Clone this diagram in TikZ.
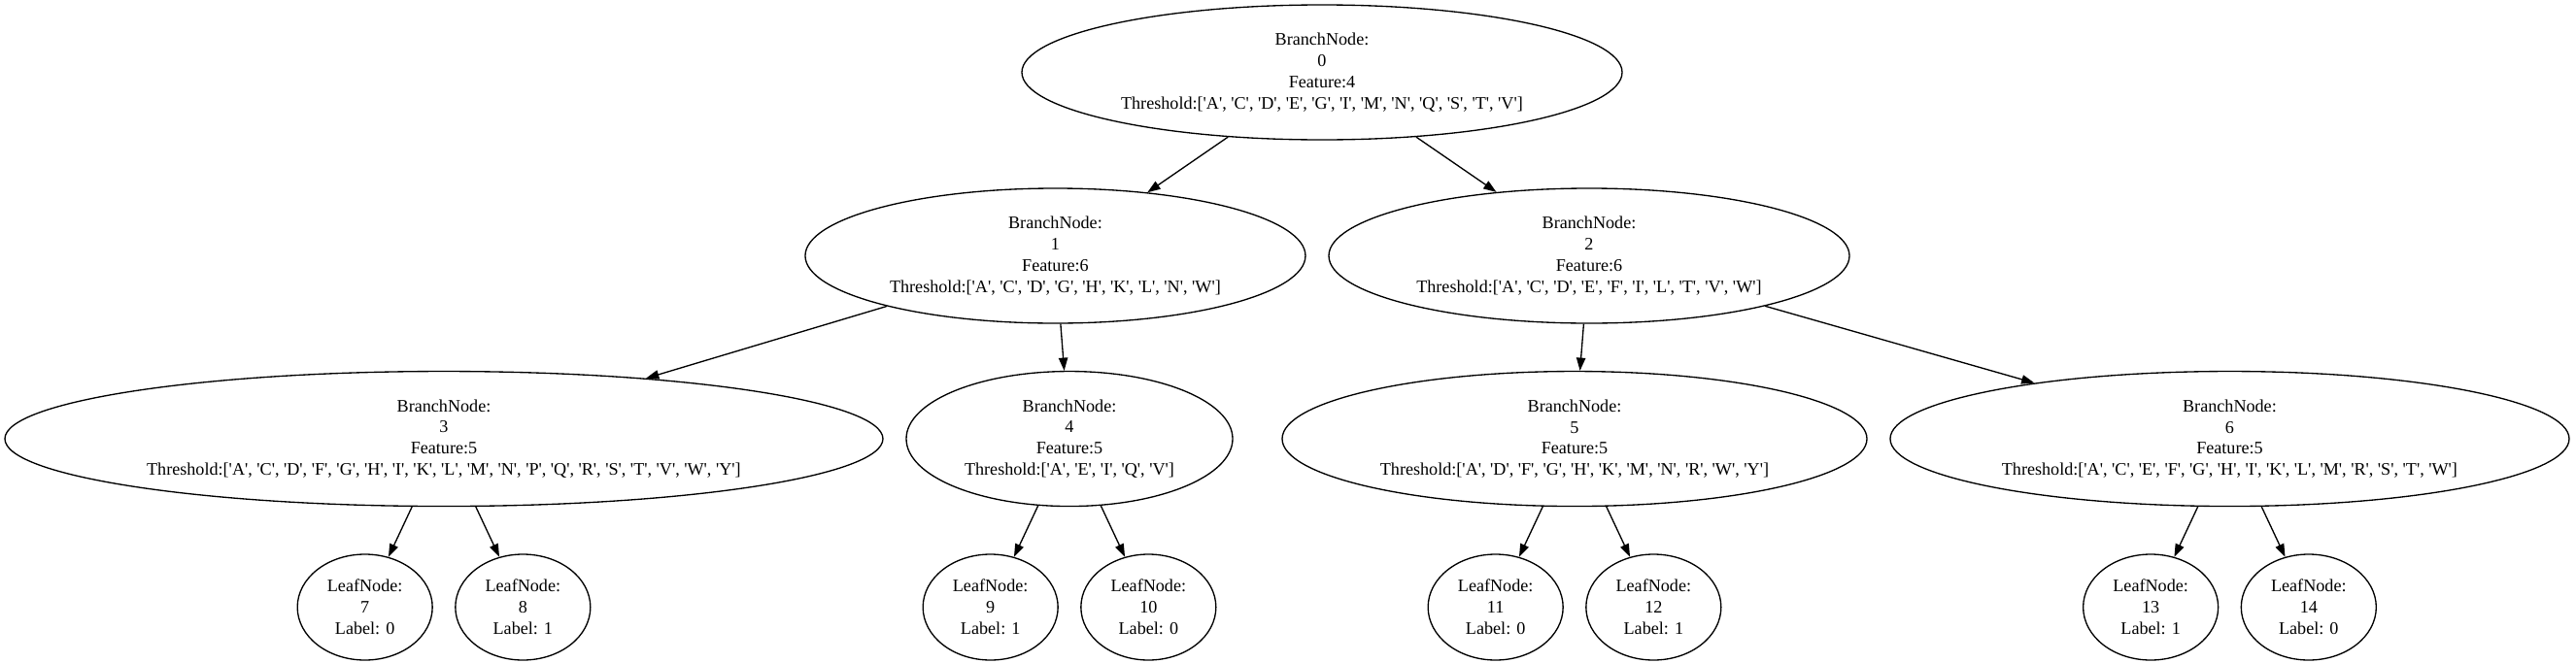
\documentclass[tikz,border=0pt]{standalone}
\usepackage{fontspec}
\setmainfont{Liberation Serif}[Ligatures=TeXOff]
\usetikzlibrary{shapes.geometric, arrows.meta, positioning}
\tikzstyle{branch} = [ellipse, draw=black, line width=1pt, inner sep=0pt, minimum height=104.25pt, align=center, font=\fontsize{13.6pt}{16.4pt}\selectfont]
\tikzstyle{leaf} = [ellipse, draw=black, line width=1pt, inner sep=0pt, minimum width=104.25pt, minimum height=81.75pt, align=center, font=\fontsize{13.6pt}{16.4pt}\selectfont]
\tikzstyle{arrow} = [line width=1pt, ->, >={Triangle[length=10pt, width=7pt]}]

\begin{document}
\begin{tikzpicture}[node distance = 141.4pt and 61pt, on grid]
		\useasboundingbox (0,0) rectangle (1989pt,-511.5pt);
		% root and branch nodes
		\node (Node0) [branch, minimum width=463.5pt] at (1020.75pt,-55.875pt) {BranchNode:\\0\\Feature:4\\Threshold:['A', 'C', 'D', 'E', 'G', 'I', 'M', 'N', 'Q', 'S', 'T', 'V']};
		\node (Node1) [branch, minimum width=386.25pt, below left = 141.75pt and 205.9pt of Node0] {BranchNode:\\1\\Feature:6\\Threshold:['A', 'C', 'D', 'G', 'H', 'K', 'L', 'N', 'W']};
		\node (Node2) [branch, minimum width=402pt, below right = 141.75pt and 206.25pt of Node0] {BranchNode:\\2\\Feature:6\\Threshold:['A', 'C', 'D', 'E', 'F', 'I', 'L', 'T', 'V', 'W']};
		\node (Node3) [branch, minimum width=678pt, below left = 141.4pt and 472.1pt of Node1] {BranchNode:\\3\\Feature:5\\Threshold:['A', 'C', 'D', 'F', 'G', 'H', 'I', 'K', 'L', 'M', 'N', 'P', 'Q', 'R', 'S', 'T', 'V', 'W', 'Y']};
		\node (Node4) [branch, minimum width=252pt, below right = 141.4pt and 10.9pt of Node1] {BranchNode:\\4\\Feature:5\\Threshold:['A', 'E', 'I', 'Q', 'V']};
		\node (Node5) [branch, minimum width=451.5pt, below left = 141.4pt and 11.25pt of Node2] {BranchNode:\\5\\Feature:5\\Threshold:['A', 'D', 'F', 'G', 'H', 'K', 'M', 'N', 'R', 'W', 'Y']};
		\node (Node6) [branch, minimum width=524.25pt, below right = 141.4pt and 494.6pt of Node2] {BranchNode:\\6\\Feature:5\\Threshold:['A', 'C', 'E', 'F', 'G', 'H', 'I', 'K', 'L', 'M', 'R', 'S', 'T', 'W']};
		% leaves
		\node (Leaf7) [leaf, below left = 130.1pt and 61pt of Node3] {LeafNode:\\7\\Label: 0};
		\node (Leaf8) [leaf, below right = 130.1pt and 61pt of Node3] {LeafNode:\\8\\Label: 1};
		\node (Leaf9) [leaf, below left = 130.1pt and 61pt of Node4] {LeafNode:\\9\\Label: 1};
		\node (Leaf10) [leaf, below right = 130.1pt and 61pt of Node4] {LeafNode:\\10\\Label: 0};
		\node (Leaf11) [leaf, below left = 130.1pt and 61pt of Node5] {LeafNode:\\11\\Label: 0};
		\node (Leaf12) [leaf, below right = 130.1pt and 61pt of Node5] {LeafNode:\\12\\Label: 1};
		\node (Leaf13) [leaf, below left = 130.1pt and 61pt of Node6] {LeafNode:\\13\\Label: 1};
		\node (Leaf14) [leaf, below right = 130.1pt and 61pt of Node6] {LeafNode:\\14\\Label: 0};
		% edges
		\draw [arrow] (Node0) -- (Node1);
		\draw [arrow] (Node0) -- (Node2);
		\draw [arrow] (Node1) -- (Node3);
		\draw [arrow] (Node1) -- (Node4);
		\draw [arrow] (Node2) -- (Node5);
		\draw [arrow] (Node2) -- (Node6);
		\draw [arrow] (Node3) -- (Leaf7);
		\draw [arrow] (Node3) -- (Leaf8);
		\draw [arrow] (Node4) -- (Leaf9);
		\draw [arrow] (Node4) -- (Leaf10);
		\draw [arrow] (Node5) -- (Leaf11);
		\draw [arrow] (Node5) -- (Leaf12);
		\draw [arrow] (Node6) -- (Leaf13);
		\draw [arrow] (Node6) -- (Leaf14);
\end{tikzpicture}
\end{document}
